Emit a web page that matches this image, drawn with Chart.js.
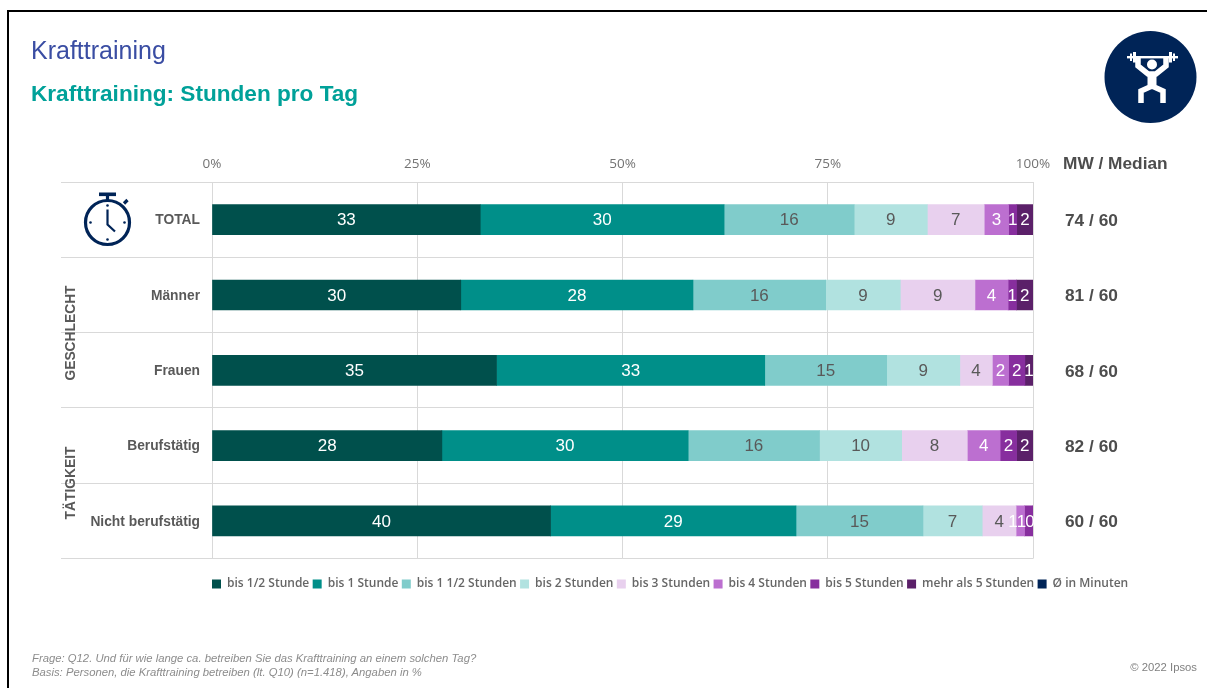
<!DOCTYPE html>
<html lang="de">
<head>
<meta charset="utf-8">
<title>Krafttraining: Stunden pro Tag</title>
<script src="https://cdn.jsdelivr.net/npm/chart.js@4/dist/chart.umd.min.js"></script>
<style>
  html, body { margin: 0; padding: 0; background: #fff; width: 1207px; height: 688px; overflow: hidden; }
  body { position: relative; font-family: "Liberation Sans", Arial, sans-serif; }
  canvas { position: absolute; left: 0; top: 0; }
  .frame-top { position: absolute; left: 7px; top: 10px; width: 1200px; height: 2px; background: #000; }
  .frame-left { position: absolute; left: 7px; top: 10px; width: 2px; height: 678px; background: #000; }
  .txt { position: absolute; white-space: nowrap; }
  h1, h2 { margin: 0; font-weight: normal; }
  .title { left: 31px; top: 35px; font-size: 25px; line-height: 30px; color: #3a4da3; }
  .subtitle { left: 31px; top: 80px; font-size: 22.6px; line-height: 28px; font-weight: bold; color: #00a199; }
  .head { left: 1063px; top: 153px; font-size: 17.3px; line-height: 20px; font-weight: bold; color: #4d4d4d; }
  .group { font-size: 13.8px; line-height: 16px; font-weight: bold; color: #595959; transform: translate(-50%, -50%) rotate(-90deg); }
  .note { left: 32px; top: 651px; font-size: 11.3px; line-height: 14px; font-style: italic; color: #8c8c8c; white-space: pre; }
  .copy { right: 10px; top: 660px; font-size: 11.3px; line-height: 14px; color: #808080; }
  svg { position: absolute; overflow: visible; }
</style>
</head>
<body>
<canvas id="chart" width="1207" height="688"></canvas>
<div class="frame-top"></div><div class="frame-left"></div>
<h1 class="txt title">Krafttraining</h1>
<h2 class="txt subtitle">Krafttraining: Stunden pro Tag</h2>
<div class="txt head">MW / Median</div>
<div class="txt group" style="left:71px;top:332.5px">GESCHLECHT</div>
<div class="txt group" style="left:71px;top:482.5px">TÄTIGKEIT</div>
<div class="txt note">Frage: Q12. Und für wie lange ca. betreiben Sie das Krafttraining an einem solchen Tag?
Basis: Personen, die Krafttraining betreiben (lt. Q10) (n=1.418), Angaben in %</div>
<div class="txt copy">© 2022 Ipsos</div>

<!-- Weightlifter badge -->
<svg style="left:1104px;top:31px" width="93" height="92" viewBox="0 0 93 92">
  <circle cx="46.5" cy="46" r="46" fill="#002457"/>
  <g fill="#fff">
    <rect x="23" y="25" width="51" height="2.4"/>
    <rect x="26" y="22.5" width="2" height="7.5"/><rect x="29" y="21" width="3" height="10.5"/>
    <rect x="65" y="21" width="3" height="10.5"/><rect x="69" y="22.5" width="2" height="7.5"/>
    <circle cx="48" cy="33.5" r="5"/>
  </g>
  <g fill="none" stroke="#fff" stroke-width="5.5">
    <path d="M34 27V35L44 43H52L62 35V27"/>
    <path d="M48 42V54" stroke-width="9"/>
    <path d="M37 72V60L48 55L59 60V72"/>
  </g>
</svg>

<!-- Stopwatch beside the TOTAL row -->
<svg style="left:80px;top:190px" width="56" height="60" viewBox="0 0 56 60">
  <g fill="none" stroke="#002457" stroke-width="3.2">
    <circle cx="27.5" cy="32.5" r="22"/>
    <path d="M27.5 5V10M44 13.5L47.5 10" />
    <path d="M27.5 19.5V34.5L35 41.5" stroke-width="2.2"/>
  </g>
  <g fill="#002457">
    <rect x="19" y="2.5" width="17" height="3.6"/>
    <circle cx="27.5" cy="15.5" r="1.3"/><circle cx="27.5" cy="49.5" r="1.3"/>
    <circle cx="10.5" cy="32.5" r="1.3"/><circle cx="44.5" cy="32.5" r="1.3"/>
  </g>
</svg>

<script>
// Survey rows, top to bottom
const categories = ["TOTAL", "Männer", "Frauen", "Berufstätig", "Nicht berufstätig"];

// Answer shares per row, in percent
const bisHalbeStunde   = [33, 30, 35, 28, 40];
const bisEineStunde    = [30, 28, 33, 30, 29];
const bisAnderthalb    = [16, 16, 15, 16, 15];
const bisZweiStunden   = [9, 9, 9, 10, 7];
const bisDreiStunden   = [7, 9, 4, 8, 4];
const bisVierStunden   = [3, 4, 2, 4, 1];
const bisFuenfStunden  = [1, 1, 2, 2, 1];
const mehrAlsFuenf     = [2, 2, 1, 2, 0];

// Right-hand column: mean and median in minutes
const mittelwert = [74, 81, 68, 82, 60];
const median     = [60, 60, 60, 60, 60];

const xTicks = [0, 25, 50, 75, 100];

const seriesNames = ["bis 1/2 Stunde", "bis 1 Stunde", "bis 1 1/2 Stunden", "bis 2 Stunden",
                     "bis 3 Stunden", "bis 4 Stunden", "bis 5 Stunden", "mehr als 5 Stunden"];
const seriesValues = [bisHalbeStunde, bisEineStunde, bisAnderthalb, bisZweiStunden,
                      bisDreiStunden, bisVierStunden, bisFuenfStunden, mehrAlsFuenf];
const seriesColors = ["#00504c", "#008f89", "#80cccb", "#b1e2e0",
                      "#e8d0ee", "#bc6fd0", "#872e9e", "#5b2069"];
const labelColors  = ["#ffffff", "#ffffff", "#595959", "#595959",
                      "#595959", "#ffffff", "#ffffff", "#ffffff"];
const averageName = "Ø in Minuten";
const averageColor = "#002457";

// Rounded answers do not always add up to 100, so each row is scaled to a full bar
const rowTotals = categories.map((_, r) => seriesValues.reduce((sum, s) => sum + s[r], 0));
const rowShare = values => values.map((v, r) => v / rowTotals[r] * 100);

const datasets = seriesNames.map((name, i) => ({
  label: name,
  data: rowShare(seriesValues[i]),
  stated: seriesValues[i],
  textColor: labelColors[i],
  backgroundColor: seriesColors[i],
  borderWidth: 0,
  barThickness: 30
}));
// The average only appears in the legend; its values sit in the right-hand column
datasets.push({ label: averageName, data: [], backgroundColor: averageColor, borderWidth: 0 });

// Writes the stated percentage in each segment. Labels are centred, then walked
// from the bar's end leftwards so that slim neighbouring segments stay readable.
const MIN_LABEL_GAP = 8.5;
const END_INSET = 3;
const segmentLabels = {
  id: "segmentLabels",
  afterDatasetsDraw(chart) {
    const ctx = chart.ctx;
    const sets = chart.data.datasets.map((ds, i) => ({ ds, bars: chart.getDatasetMeta(i).data }))
                                    .filter(s => s.ds.stated);
    ctx.save();
    ctx.font = '17px "Liberation Sans", Arial, sans-serif';
    ctx.textAlign = "center";
    ctx.textBaseline = "middle";
    categories.forEach((_, r) => {
      let limit = chart.chartArea.right - END_INSET + MIN_LABEL_GAP;
      for (let i = sets.length - 1; i >= 0; i--) {
        const bar = sets[i].bars[r];
        const x = Math.min((bar.x + bar.base) / 2, limit - MIN_LABEL_GAP);
        limit = x;
        ctx.fillStyle = sets[i].ds.textColor;
        ctx.fillText(String(sets[i].ds.stated[r]), x, bar.y + 1);
      }
    });
    ctx.restore();
  }
};

// Places the legend under the plot, starting at the zero line
const legendPlacement = {
  id: "legendPlacement",
  afterLayout(chart) {
    const legend = chart.legend;
    legend.left = chart.chartArea.left - legend.options.labels.padding;
    legend.top += 16;
    legend.bottom += 16;
  }
};

new Chart(document.getElementById("chart"), {
  type: "bar",
  data: { labels: categories, datasets },
  plugins: [segmentLabels, legendPlacement],
  options: {
    indexAxis: "y",
    responsive: false,
    animation: false,
    layout: { padding: { top: 0, right: 0, left: 0, bottom: 104 } },
    plugins: {
      tooltip: { enabled: false },
      title: { display: false },
      legend: {
        position: "bottom",
        align: "start",
        labels: {
          boxWidth: 9,
          boxHeight: 9,
          padding: 3.4,
          color: "#666666",
          font: { family: '"Open Sans", sans-serif', size: 12, weight: "600" }
        }
      }
    },
    scales: {
      x: {
        position: "top",
        stacked: true,
        min: 0,
        max: 100,
        afterBuildTicks(scale) { scale.ticks = xTicks.map(value => ({ value })); },
        afterFit(scale) { scale.height = 182; },
        border: { display: false },
        grid: { color: "#d9d9d9", drawTicks: false },
        ticks: {
          padding: 10,
          maxRotation: 0,
          color: "#737373",
          font: { family: '"Open Sans", sans-serif', size: 13.5 },
          callback: v => v + "%"
        }
      },
      y: {
        position: "left",
        stacked: true,
        afterFit(scale) { scale.width = 212; },
        border: { display: false },
        grid: { color: "#d9d9d9", tickColor: "#d9d9d9", tickLength: 151, offset: true },
        ticks: {
          autoSkip: false,
          padding: -139,
          labelOffset: 1,
          color: "#595959",
          font: { family: '"Liberation Sans", Arial, sans-serif', size: 13.8, weight: "bold" }
        }
      },
      yStat: {
        type: "category",
        position: "right",
        offset: true,
        labels: mittelwert.map((m, r) => m + " / " + median[r]),
        afterFit(scale) { scale.width = 174; },
        border: { display: false },
        grid: { display: false },
        ticks: {
          autoSkip: false,
          padding: 24,
          labelOffset: 1.5,
          color: "#4d4d4d",
          font: { family: '"Liberation Sans", Arial, sans-serif', size: 17.3, weight: "bold" }
        }
      }
    }
  }
});
</script>
</body>
</html>
